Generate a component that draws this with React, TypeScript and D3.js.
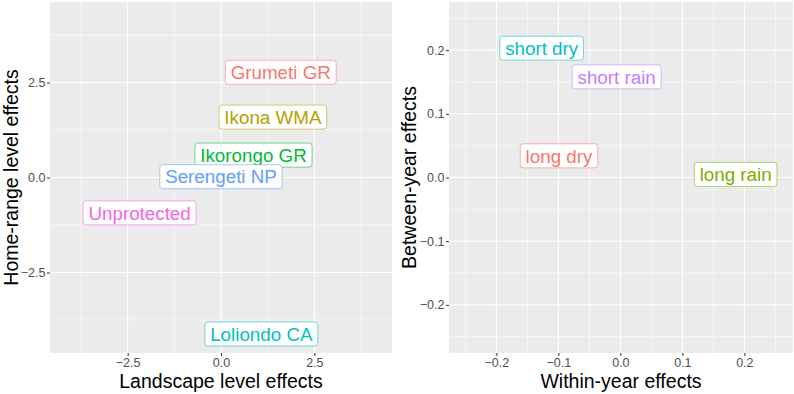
import { useEffect, useRef } from 'react';
import * as d3 from 'd3';

// left panel: protection status
const siteNames = ['Grumeti GR', 'Ikona WMA', 'Ikorongo GR', 'Loliondo CA', 'Serengeti NP', 'Unprotected'];
const siteLandscape = [1.6, 1.39, 0.87, 1.08, 0.0, -2.18];
const siteHomeRange = [2.77, 1.59, 0.59, -4.12, 0.02, -0.93];
const siteColors = ['#F8766D', '#B79F00', '#00BA38', '#00BFC4', '#619CFF', '#F564E3'];
const siteTicks = [-2.5, 0, 2.5];
const siteMinor = [-3.75, -1.25, 1.25, 3.75];

// right panel: seasons
const seasonNames = ['long dry', 'long rain', 'short dry', 'short rain'];
const seasonWithin = [-0.099, 0.186, -0.127, -0.006];
const seasonBetween = [0.034, 0.005, 0.203, 0.158];
const seasonColors = ['#F8766D', '#7CAE00', '#00BFC4', '#C77CFF'];
const seasonTicks = [-0.2, -0.1, 0, 0.1, 0.2];
const seasonMinor = [-0.25, -0.15, -0.05, 0.05, 0.15, 0.25];

const W = 794;
const H = 394;
const FONT = 'Liberation Sans, Arial, Helvetica, sans-serif';

type Panel = {
  left: number;
  right: number;
  xDomain: [number, number];
  yDomain: [number, number];
  xTicks: number[];
  yTicks: number[];
  minor: number[];
  fmt: (d: number) => string;
  names: string[];
  xs: number[];
  ys: number[];
  colors: string[];
  xTitle: string;
  yTitle: string;
  yTitleX: number;
};

const drawPanel = (svg: any, p: Panel) => {
  const top = 2;
  const bottom = 353;
  const x = d3.scaleLinear().domain(p.xDomain).range([p.left, p.right]);
  const y = d3.scaleLinear().domain(p.yDomain).range([bottom, top]);

  const g = svg.append('g');
  g.append('rect')
    .attr('x', p.left)
    .attr('y', top)
    .attr('width', p.right - p.left)
    .attr('height', bottom - top)
    .attr('fill', '#EBEBEB');

  // minor grid
  p.minor.forEach((v) => {
    g.append('line').attr('x1', x(v)).attr('x2', x(v)).attr('y1', top).attr('y2', bottom)
      .attr('stroke', '#fff').attr('stroke-width', 0.55);
    g.append('line').attr('x1', p.left).attr('x2', p.right).attr('y1', y(v)).attr('y2', y(v))
      .attr('stroke', '#fff').attr('stroke-width', 0.55);
  });
  // major grid
  p.xTicks.forEach((v) => {
    g.append('line').attr('x1', x(v)).attr('x2', x(v)).attr('y1', top).attr('y2', bottom)
      .attr('stroke', '#fff').attr('stroke-width', 1.1);
  });
  p.yTicks.forEach((v) => {
    g.append('line').attr('x1', p.left).attr('x2', p.right).attr('y1', y(v)).attr('y2', y(v))
      .attr('stroke', '#fff').attr('stroke-width', 1.1);
  });

  // axes
  const xa = g.append('g')
    .attr('transform', `translate(0,${bottom})`)
    .call(d3.axisBottom(x).tickValues(p.xTicks).tickSize(3).tickPadding(2).tickFormat(p.fmt as any));
  const ya = g.append('g')
    .attr('transform', `translate(${p.left},0)`)
    .call(d3.axisLeft(y).tickValues(p.yTicks).tickSize(3).tickPadding(1.5).tickFormat(p.fmt as any));
  [xa, ya].forEach((a) => {
    a.select('.domain').remove();
    a.selectAll('line').attr('stroke', '#333').attr('stroke-width', 1);
    a.selectAll('text').attr('fill', '#4D4D4D').attr('font-size', 12.5).attr('font-family', FONT);
  });

  // titles
  g.append('text')
    .attr('x', (p.left + p.right) / 2)
    .attr('y', 387.5)
    .attr('text-anchor', 'middle')
    .attr('font-size', 19.5)
    .attr('font-family', FONT)
    .attr('fill', '#000')
    .text(p.xTitle);
  g.append('text')
    .attr('transform', `translate(${p.yTitleX},${(top + bottom) / 2}) rotate(-90)`)
    .attr('text-anchor', 'middle')
    .attr('font-size', 19.5)
    .attr('font-family', FONT)
    .attr('fill', '#000')
    .text(p.yTitle);

  // labels
  p.names.forEach((name, i) => {
    const cx = x(p.xs[i]);
    const cy = y(p.ys[i]);
    const lab = g.append('g');
    const rect = lab.append('rect');
    const t = lab.append('text')
      .attr('x', cx)
      .attr('y', cy + 6.7)
      .attr('text-anchor', 'middle')
      .attr('font-size', 18.8)
      .attr('font-family', FONT)
      .attr('fill', p.colors[i])
      .text(name);
    const w = (t.node() as SVGTextElement).getComputedTextLength() + 10.6;
    rect.attr('x', cx - w / 2)
      .attr('y', cy - 12)
      .attr('width', w)
      .attr('height', 24)
      .attr('rx', 3)
      .attr('fill', '#fff')
      .attr('stroke', p.colors[i])
      .attr('stroke-opacity', 0.55)
      .attr('stroke-width', 1);
  });
};

export default function App() {
  const ref = useRef<SVGSVGElement>(null);

  useEffect(() => {
    const svg = d3.select(ref.current);
    svg.selectAll('*').remove();
    svg.append('rect').attr('width', W).attr('height', H).attr('fill', '#fff');

    drawPanel(svg, {
      left: 50,
      right: 392,
      xDomain: [-4.58, 4.58],
      yDomain: [-4.62, 4.62],
      xTicks: siteTicks,
      yTicks: siteTicks,
      minor: siteMinor,
      fmt: d3.format('.1f'),
      names: siteNames,
      xs: siteLandscape,
      ys: siteHomeRange,
      colors: siteColors,
      xTitle: 'Landscape level effects',
      yTitle: 'Home-range level effects',
      yTitleX: 18,
    });

    drawPanel(svg, {
      left: 449,
      right: 793,
      xDomain: [-0.2765, 0.2785],
      yDomain: [-0.2755, 0.2755],
      xTicks: seasonTicks,
      yTicks: seasonTicks,
      minor: seasonMinor,
      fmt: d3.format('.1f'),
      names: seasonNames,
      xs: seasonWithin,
      ys: seasonBetween,
      colors: seasonColors,
      xTitle: 'Within-year effects',
      yTitle: 'Between-year effects',
      yTitleX: 416,
    });
  }, []);

  return (
    <svg
      ref={ref}
      width={W}
      height={H}
      style={{ position: 'absolute', left: 0, top: 0 }}
    />
  );
}
